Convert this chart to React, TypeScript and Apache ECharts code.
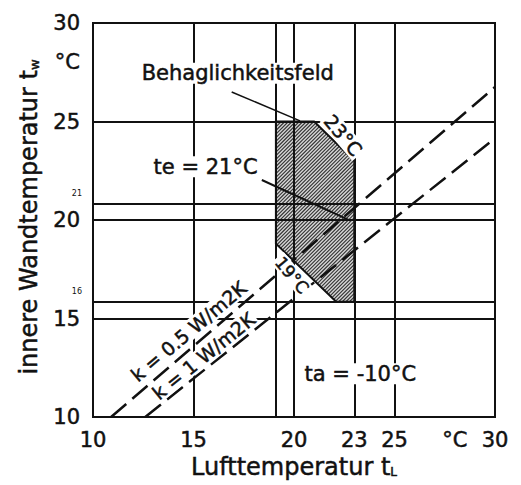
import React, { useEffect, useRef } from 'react';
import * as echarts from 'echarts';

// Axis tick labels
const xTickValues = [10, 15, 20, 23, 25, 28, 30];
const yTickValues = [10, 15, 20, 25, 28, 30];
const unitTickValue = 28; // position of the "°C" unit label on both axes

// Grid reference lines
const gridX = [15, 19.1, 20, 23, 25];
const gridY = [15, 15.85, 20, 20.85, 25];

// Comfort field (Behaglichkeitsfeld) polygon
const fieldTL = [19.1, 21, 23, 23, 22.1, 19.1];
const fieldTW = [25, 25, 23, 15.85, 15.85, 18.8];

// k-value dashed lines
const kHalfTL = [10.9, 30];
const kHalfTW = [10, 26.75];
const kOneTL = [12.6, 30];
const kOneTW = [10, 24.15];

// Leader lines
const leaderFieldTL = [16.9, 20.3];
const leaderFieldTW = [26.5, 25.03];
const leaderTeTL = [18.4, 22.8];
const leaderTeTW = [22.03, 19.97];

// Annotations
const noteTexts = ['Behaglichkeitsfeld', 'te = 21°C', 'ta = -10°C', '23°C', '19°C', 'k = 0.5 W/m2K', 'k = 1 W/m2K'];
const noteTL = [17.2, 15.6, 23.3, 22.45, 19.9, 14.75, 15.5];
const noteTW = [27.45, 22.7, 12.2, 24.3, 17.2, 14.35, 13.1];
const noteRotate = [0, 0, 0, -50, -50, 40, 39];
const noteSize = [21, 21, 21, 19, 17, 19, 19];

const sideTexts = ['21', '16'];
const sideTL = [9.2, 9.2];
const sideTW = [21.35, 16.35];

const FONT = 'DejaVu Sans';
const INK = '#111';
const HEAVY = { textBorderColor: INK, textBorderWidth: 0.5 };

export default function App() {
  const ref = useRef<HTMLDivElement>(null);

  useEffect(() => {
    if (!ref.current) return;
    const chart = echarts.init(ref.current, undefined, { renderer: 'svg' });

    const hatchRender = (_params: any, api: any) => {
      const pts: number[][] = fieldTL.map((t, i) => api.coord([t, fieldTW[i]]));
      let minS = Infinity, maxS = -Infinity;
      pts.forEach(p => { const s = p[0] + p[1]; if (s < minS) minS = s; if (s > maxS) maxS = s; });
      const children: any[] = [
        { type: 'polygon', shape: { points: pts }, style: { fill: '#d6d6d6', stroke: 'none' } },
      ];
      const step = 3.6;
      for (let c = minS + step / 2; c < maxS; c += step) {
        const hits: number[][] = [];
        for (let i = 0; i < pts.length; i++) {
          const p = pts[i];
          const q = pts[(i + 1) % pts.length];
          const fp = p[0] + p[1] - c;
          const fq = q[0] + q[1] - c;
          if ((fp <= 0 && fq > 0) || (fp > 0 && fq <= 0)) {
            const t = fp / (fp - fq);
            hits.push([p[0] + t * (q[0] - p[0]), p[1] + t * (q[1] - p[1])]);
          }
        }
        if (hits.length >= 2) {
          children.push({
            type: 'line',
            shape: { x1: hits[0][0], y1: hits[0][1], x2: hits[1][0], y2: hits[1][1] },
            style: { stroke: '#333', lineWidth: 1.1 },
          });
        }
      }
      children.push({ type: 'polygon', shape: { points: pts }, style: { fill: 'none', stroke: INK, lineWidth: 2 } });
      return { type: 'group', children };
    };

    const lineSeries = (tl: number[], tw: number[], style: any, z: number) => ({
      type: 'line',
      data: tl.map((t, i) => [t, tw[i]]),
      symbol: 'none',
      silent: true,
      lineStyle: style,
      z,
    });

    const option: any = {
      animation: false,
      grid: {
        left: 93, top: 23, width: 402, height: 394,
        show: true, borderColor: INK, borderWidth: 2, backgroundColor: 'transparent',
      },
      xAxis: {
        type: 'value', min: 10, max: 30, interval: 1,
        axisLine: { show: false }, axisTick: { show: false }, splitLine: { show: false },
        axisLabel: {
          margin: 12, fontFamily: FONT, fontSize: 21, color: INK, ...HEAVY,
          formatter: (v: number) => {
            const r = Math.round(v);
            if (!xTickValues.includes(r)) return '';
            return r === unitTickValue ? '°C' : String(r);
          },
        },
        name: '{m|Lufttemperatur t}{s|L}',
        nameLocation: 'middle', nameGap: 36,
        nameTextStyle: {
          fontFamily: FONT, fontSize: 24, color: INK,
          rich: {
            m: { fontFamily: FONT, fontSize: 24, color: INK, ...HEAVY },
            s: { fontFamily: FONT, fontSize: 12, color: INK, padding: [10, 0, 0, 0], ...HEAVY },
          },
        },
      },
      yAxis: {
        type: 'value', min: 10, max: 30, interval: 1,
        axisLine: { show: false }, axisTick: { show: false }, splitLine: { show: false },
        axisLabel: {
          margin: 13, fontFamily: FONT, fontSize: 21, color: INK, ...HEAVY,
          formatter: (v: number) => {
            const r = Math.round(v);
            if (!yTickValues.includes(r)) return '';
            return r === unitTickValue ? '°C' : String(r);
          },
        },
        name: '{m|innere Wandtemperatur t}{s|w}',
        nameLocation: 'middle', nameGap: 52,
        nameTextStyle: {
          fontFamily: FONT, fontSize: 24, color: INK, padding: [0, 0, 0, 6],
          rich: {
            m: { fontFamily: FONT, fontSize: 24, color: INK, ...HEAVY },
            s: { fontFamily: FONT, fontSize: 13, color: INK, padding: [10, 0, 0, 0], ...HEAVY },
          },
        },
      },
      series: [
        {
          type: 'custom',
          renderItem: hatchRender,
          data: [[0, 0]],
          silent: true,
          z: 1,
        },
        {
          type: 'line',
          data: [],
          silent: true,
          z: 2,
          markLine: {
            silent: true,
            symbol: ['none', 'none'],
            animation: false,
            label: { show: false },
            lineStyle: { color: INK, width: 2, type: 'solid' },
            data: [
              ...gridX.map(v => ({ xAxis: v })),
              ...gridY.map(v => ({ yAxis: v })),
            ],
          },
        },
        lineSeries(kHalfTL, kHalfTW, { color: INK, width: 2.5, type: [20, 8] }, 3),
        lineSeries(kOneTL, kOneTW, { color: INK, width: 2.5, type: [20, 8] }, 3),
        lineSeries(leaderFieldTL, leaderFieldTW, { color: INK, width: 1.5 }, 4),
        lineSeries(leaderTeTL, leaderTeTW, { color: INK, width: 2 }, 4),
        {
          type: 'scatter',
          symbolSize: 1,
          itemStyle: { color: '#fff', opacity: 1 },
          silent: true,
          clip: false,
          z: 6,
          data: noteTexts.map((t, i) => ({
            name: t,
            value: [noteTL[i], noteTW[i]],
            label: { rotate: noteRotate[i], fontSize: noteSize[i] },
          })),
          label: {
            show: true, position: 'inside', formatter: '{b}', opacity: 1,
            fontFamily: FONT, color: INK, backgroundColor: '#fff', padding: [0, 2], ...HEAVY,
          },
        },
        {
          type: 'scatter',
          symbolSize: 1,
          itemStyle: { color: '#fff', opacity: 1 },
          silent: true,
          clip: false,
          z: 6,
          data: sideTexts.map((t, i) => ({ name: t, value: [sideTL[i], sideTW[i]] })),
          label: {
            show: true, position: 'inside', formatter: '{b}', opacity: 1,
            fontFamily: FONT, fontSize: 8, color: INK,
          },
        },
      ],
    };

    chart.setOption(option);
    return () => chart.dispose();
  }, []);

  return (
    <div
      ref={ref}
      style={{ position: 'fixed', left: 0, top: 0, width: 521, height: 485, background: '#fff' }}
    />
  );
}
